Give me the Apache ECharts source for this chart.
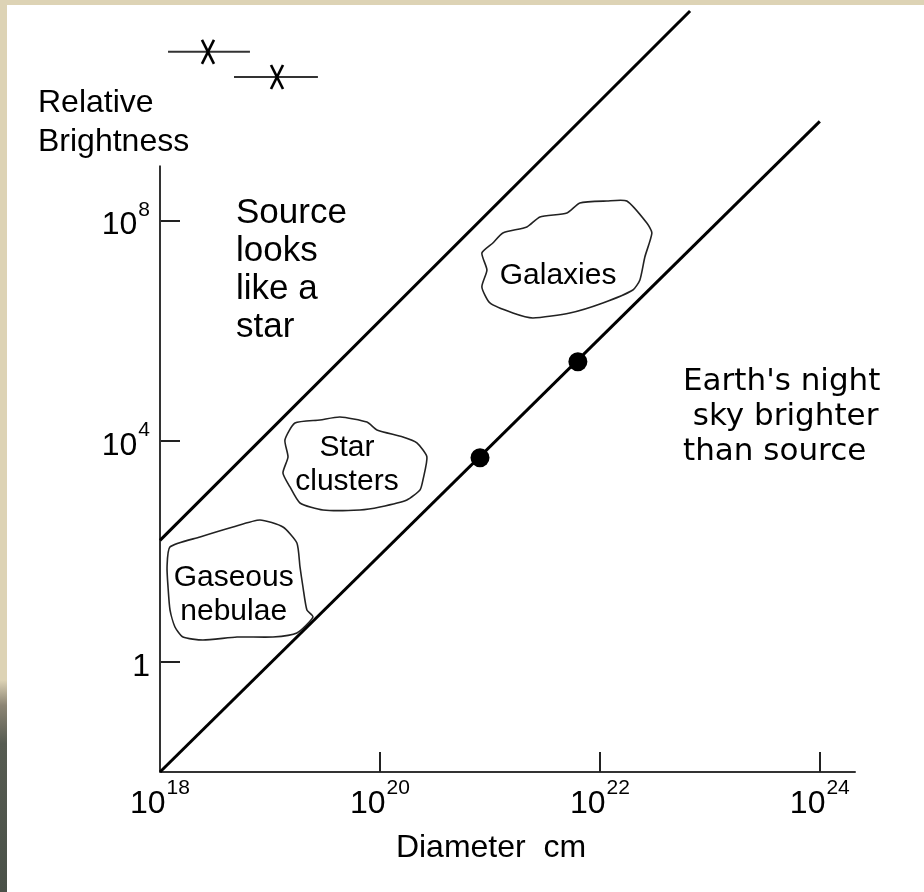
<!DOCTYPE html>
<html>
<head>
<meta charset="utf-8">
<title>Relative Brightness vs Diameter</title>
<script src="https://cdn.jsdelivr.net/npm/echarts@6/dist/echarts.min.js"></script>
<style>
  html, body { margin: 0; padding: 0; background: #ddd3b5; }
  #chart { width: 924px; height: 892px; }
</style>
</head>
<body>
<div id="chart"></div>
<script>
// Axes are in powers of ten: x = log10(diameter / cm), y = log10(relative brightness)
const xLabelExps = [18, 20, 22, 24];
const xTickExps = [20, 22, 24];
const yLabelExps = [0, 4, 8];

// Limiting lines (slope 2 in log-log)
const skyLimit = [[18, -2], [24, 9.8]];      // Earth's night sky brighter than source below this
const starLimit = [[18, 2.2], [22.82, 11.8]]; // source looks like a star above this

// Measured objects sitting on the sky limit
const measured = [[20.91, 3.70], [21.8, 5.44]];

// Star-like objects with diameter ranges (centre, low, high, brightness)
const rangeCentres = [18.436, 19.064];
const rangeLows = [18.073, 18.673];
const rangeHighs = [18.818, 19.436];
const rangeBrightness = [11.06, 10.604];

// Outlines of the object classes
const galaxiesOutline = [
  [22.245, 8.355], [22.427, 7.956], [22.473, 7.775], [22.409, 7.340], [22.364, 6.923],
  [22.300, 6.741], [22.027, 6.506], [21.727, 6.324], [21.391, 6.234], [21.209, 6.324],
  [21.000, 6.506], [20.927, 6.796], [20.973, 7.104], [20.927, 7.412], [21.027, 7.594],
  [21.118, 7.775], [21.336, 7.884], [21.455, 8.065], [21.700, 8.138], [21.818, 8.319],
  [22.064, 8.355]
];
const clustersOutline = [
  [19.227, 4.329], [19.455, 4.384], [19.636, 4.438], [19.882, 4.347], [19.973, 4.202],
  [20.209, 4.075], [20.336, 3.967], [20.427, 3.713], [20.391, 3.296], [20.364, 3.114],
  [20.245, 2.933], [20.000, 2.806], [19.818, 2.752], [19.482, 2.752], [19.273, 2.878],
  [19.182, 3.169], [19.118, 3.423], [19.164, 3.713], [19.136, 4.021]
];
const nebulaeOutline = [
  [18.091, 2.081], [18.364, 2.262], [18.664, 2.443], [18.909, 2.570], [19.118, 2.443],
  [19.245, 2.153], [19.273, 1.718], [19.300, 1.355], [19.336, 0.938], [19.391, 0.811],
  [19.245, 0.521], [19.027, 0.448], [18.700, 0.448], [18.391, 0.394], [18.209, 0.448],
  [18.136, 0.630], [18.091, 0.938], [18.073, 1.355], [18.064, 1.718]
];
const classNames = ['Galaxies', 'Star\nclusters', 'Gaseous\nnebulae'];
const classLabelAt = [[21.62, 7.0], [19.70, 3.58], [18.67, 1.22]];

const FONT = '"Liberation Sans", Arial, sans-serif';
const WIDE_FONT = '"DejaVu Sans", "Liberation Sans", sans-serif';
const INK = '#000';

const chart = echarts.init(document.getElementById('chart'));

function powerLabel(v) {
  return v === 0 ? '{b|1}' : '{b|10}{s|' + v + '}';
}
const powerRich = {
  b: { fontSize: 32, fontFamily: FONT, color: INK, lineHeight: 42, verticalAlign: 'bottom' },
  s: { fontSize: 21, fontFamily: FONT, color: INK, lineHeight: 42, verticalAlign: 'top', padding: [0, 0, 0, 1] }
};

const outlines = [galaxiesOutline, clustersOutline, nebulaeOutline];

const option = {
  backgroundColor: '#ddd3b5',
  animation: false,
  grid: { left: 160, right: 69, top: 0, bottom: 120, containLabel: false, outerBoundsMode: 'none' },
  xAxis: {
    type: 'value', min: 18, max: 24.32,
    splitLine: { show: false },
    axisLine: { show: true, onZero: false, lineStyle: { color: '#333', width: 2 } },
    axisTick: { show: true, inside: true, length: 20, customValues: xTickExps, lineStyle: { color: '#222', width: 2 } },
    axisLabel: { customValues: xLabelExps, formatter: powerLabel, rich: powerRich, margin: 6 }
  },
  yAxis: {
    type: 'value', min: -2, max: 12,
    splitLine: { show: false },
    axisLine: { show: false },
    axisTick: { show: true, inside: true, length: 20, customValues: yLabelExps, lineStyle: { color: '#222', width: 2 } },
    axisLabel: { customValues: yLabelExps, formatter: powerLabel, rich: powerRich, margin: 10 }
  },
  graphic: [
    { type: 'rect', z: -10, shape: { x: 7, y: 5, width: 917, height: 887 }, style: { fill: '#fff' } },
    { type: 'rect', z: -10, shape: { x: 0, y: 680, width: 7, height: 212 },
      style: { fill: new echarts.graphic.LinearGradient(0, 0, 0, 1, [
        { offset: 0, color: '#ddd3b5' }, { offset: 0.12, color: '#8c8574' },
        { offset: 0.3, color: '#565b51' }, { offset: 1, color: '#4a5148' }]) } },
    { type: 'text', style: { text: 'Relative\nBrightness', x: 38, y: 123, font: '32px ' + FONT, fill: INK,
      textAlign: 'left', textVerticalAlign: 'middle', lineHeight: 39 } },
    { type: 'text', style: { text: 'Source\nlooks\nlike a\nstar', x: 236, y: 270, font: '35px ' + FONT, fill: INK,
      textAlign: 'left', textVerticalAlign: 'middle', lineHeight: 38 } },
    { type: 'text', style: { text: "Earth's night\n sky brighter\nthan source", x: 683, y: 417, font: '31px ' + WIDE_FONT, fill: INK,
      textAlign: 'left', textVerticalAlign: 'middle', lineHeight: 35 } },
    { type: 'text', style: { text: 'Diameter  cm', x: 491, y: 848, font: '32px ' + FONT, fill: INK,
      textAlign: 'center', textVerticalAlign: 'middle' } }
  ],
  series: [
    { // vertical brightness axis, stopping below the top of the plot
      type: 'line', data: [[18, -2], [18, 9.0]], symbol: 'none', silent: true,
      lineStyle: { color: '#333', width: 2 }
    },
    {
      type: 'line', data: skyLimit, symbol: 'none', silent: true, clip: false,
      lineStyle: { color: INK, width: 3 }
    },
    {
      type: 'line', data: starLimit, symbol: 'none', silent: true, clip: false,
      lineStyle: { color: INK, width: 3 }
    },
    {
      type: 'scatter', data: measured, symbol: 'circle', symbolSize: 19, silent: true,
      itemStyle: { color: INK, opacity: 1 }
    },
    { // class outlines with their names
      type: 'custom', silent: true, clip: false,
      data: classNames.map((n, i) => [i]),
      renderItem: function (params, api) {
        const i = api.value(0);
        const pts = outlines[i].map(p => api.coord(p));
        const lp = api.coord(classLabelAt[i]);
        return {
          type: 'group',
          children: [
            { type: 'polygon', shape: { points: pts, smooth: 0.2 },
              style: { fill: '#fff', stroke: '#222', lineWidth: 1.6 } },
            { type: 'text', style: { text: classNames[i], x: lp[0], y: lp[1], font: '30px ' + FONT, fill: INK,
              textAlign: 'center', textVerticalAlign: 'middle', lineHeight: 34 } }
          ]
        };
      }
    },
    { // star-like sources: X marker with a horizontal diameter range
      type: 'custom', silent: true, clip: false,
      data: rangeCentres.map((c, i) => [c, rangeBrightness[i], rangeLows[i], rangeHighs[i]]),
      renderItem: function (params, api) {
        const c = api.coord([api.value(0), api.value(1)]);
        const lo = api.coord([api.value(2), api.value(1)]);
        const hi = api.coord([api.value(3), api.value(1)]);
        const st = { stroke: INK, lineWidth: 2.6 };
        return {
          type: 'group',
          children: [
            { type: 'line', shape: { x1: lo[0], y1: lo[1], x2: hi[0], y2: hi[1] }, style: { stroke: '#333', lineWidth: 2 } },
            { type: 'line', shape: { x1: c[0] - 6, y1: c[1] - 12, x2: c[0] + 6, y2: c[1] + 12 }, style: st },
            { type: 'line', shape: { x1: c[0] + 6, y1: c[1] - 12, x2: c[0] - 6, y2: c[1] + 12 }, style: st }
          ]
        };
      }
    }
  ]
};
chart.setOption(option);
</script>
</body>
</html>
